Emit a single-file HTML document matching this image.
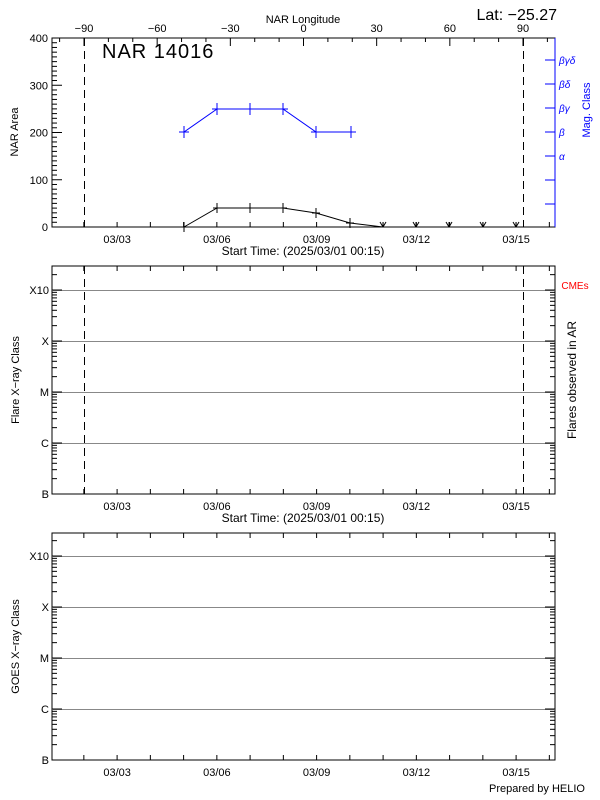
<!DOCTYPE html>
<html><head><meta charset="utf-8">
<style>
html,body{margin:0;padding:0;background:#fff;}
svg{display:block;font-family:"Liberation Sans",sans-serif;}
</style></head>
<body>
<svg id="s" width="600" height="800" xmlns="http://www.w3.org/2000/svg"></svg>
<script>
const s=document.getElementById('s');
let h='';
const L=52,R=555;
const d0=50.6, dd=33.25;
const dx=d=>d0+(d-1)*dd;
function line(x1,y1,x2,y2,c='#000',w=1,extra=''){h+=`<line x1="${x1}" y1="${y1}" x2="${x2}" y2="${y2}" stroke="${c}" stroke-width="${w}" ${extra}/>`;}
function text(x,y,t,sz=11,anc='middle',c='#000',extra=''){h+=`<text x="${x}" y="${y}" font-size="${sz}" text-anchor="${anc}" fill="${c}" ${extra}>${t}</text>`;}
const labs=[[3,'03/03'],[6,'03/06'],[9,'03/09'],[12,'03/12'],[15,'03/15']];
const DASH='stroke-dasharray="8,5" shape-rendering="crispEdges"';
function dateAxis(top,bot,label){
  for(let d=2;d<=16;d++){const x=dx(d);line(x,bot,x,bot-5);line(x,top,x,top+5);}
  labs.forEach(([d,t])=>text(dx(d),bot+16,t));
  if(label) text(303,bot+28,'Start Time: (2025/03/01 00:15)',12);
}
const T1=38,B1=227;const ay=v=>B1-v*(B1-T1)/400;
h+=`<rect x="${L}" y="${T1}" width="${R-L}" height="${B1-T1}" fill="none" stroke="#000"/>`;
line(R,T1,R,B1,'#00f');
for(let v=0;v<=400;v+=10){const y=ay(v);line(L,y,L+(v%100==0?10:5),y);}
[0,100,200,300,400].forEach(v=>text(L-4,ay(v)+4,v,11,'end'));
for(let d=2;d<=16;d++){const x=dx(d);line(x,B1,x,B1-5);}
labs.forEach(([d,t])=>text(dx(d),B1+16,t));
text(303,B1+28,'Start Time: (2025/03/01 00:15)',12);
const lx=l=>303.5+l*439/180;
for(let l=-100;l<=110;l+=10){const x=lx(l);if(x>L&&x<R)line(x,T1,x,T1+(l%30==0?8:4));}
[-90,-60,-30,0,30,60,90].forEach(l=>text(lx(l),T1-6,l==0?'0':(l<0?'−'+(-l):l),11));
text(303,23,'NAR Longitude',11);
text(557,20,'Lat: −25.27',16,'end');
text(102,58,'NAR 14016',20,'start','#000','letter-spacing="1"');
text(18,132,'NAR Area',11,'middle','#000','transform="rotate(-90 18 132)"');
[60,84,108,132,156,180,204].forEach(y=>line(R-10,y,R,y,'#00f'));
const gl=[[60,'βγδ'],[84,'βδ'],[108,'βγ'],[132,'β'],[156,'α']];
gl.forEach(([y,t])=>text(R+4,y+4,t,10,'start','#00f','font-style="italic"'));
text(590,110,'Mag. Class',11,'middle','#00f','transform="rotate(-90 590 110)"');
[84.5,523.5].forEach(x=>{line(x,T1,x,B1,'#000',1,DASH);});
const bx=[184,217,250,283,316,351],byv=[132,109,109,109,132,132];
h+=`<polyline points="${bx.map((x,i)=>x+','+byv[i]).join(' ')}" fill="none" stroke="#00f"/>`;
bx.forEach((x,i)=>{line(x-5,byv[i],x+5,byv[i],'#00f');line(x,byv[i]-6,x,byv[i]+6,'#00f');});
const kx=[184,217,250,283,316,350,383,416,449,483,516],ky=[227,208,208,208,213,223,227,227,227,227,227];
h+=`<polyline points="${kx.map((x,i)=>x+','+ky[i]).join(' ')}" fill="none" stroke="#000"/>`;
kx.forEach((x,i)=>{if(i<6){line(x-4,ky[i],x+4,ky[i]);line(x,ky[i]-5,x,ky[i]+5);}else{line(x-3,ky[i]-5,x,ky[i]);line(x+3,ky[i]-5,x,ky[i]);line(x,ky[i]-5,x,ky[i]);}});
function flarePanel(T,B,ylab,dashed){
  const st=51;
  h+=`<rect x="${L}" y="${T}" width="${R-L}" height="${B-T}" fill="none" stroke="#000"/>`;
  const names=['B','C','M','X','X10'];
  for(let k=0;k<5;k++){
    const y=B-k*st;
    if(k>0) line(L,y+0.5,R,y+0.5,'#888',1,'shape-rendering="crispEdges"');
    text(L-3,y+4,names[k],11,'end');
    for(let m=1;m<=9;m++){
      const yy=y-Math.log10(m)*st; if(yy<T)break;
      const len=m==1?10:5; line(L,yy,L+len,yy); line(R,yy,R-len,yy);
    }
  }
  dateAxis(T,B,dashed);
  text(19,(T+B)/2,ylab,11,'middle','#000',`transform="rotate(-90 19 ${(T+B)/2})"`);
  if(dashed){[84.5,523.5].forEach(x=>line(x,T,x,B,'#000',1,DASH));}
}
flarePanel(266,494,'Flare X−ray Class',true);
text(575,289,'CMEs',10,'middle','#f00');
text(576,380,'Flares observed in AR',12,'middle','#000','transform="rotate(-90 576 380)"');
flarePanel(533,760,'GOES X−ray Class',false);
text(585,792,'Prepared by HELIO',11,'end');
s.innerHTML=h;
</script>
</body></html>
